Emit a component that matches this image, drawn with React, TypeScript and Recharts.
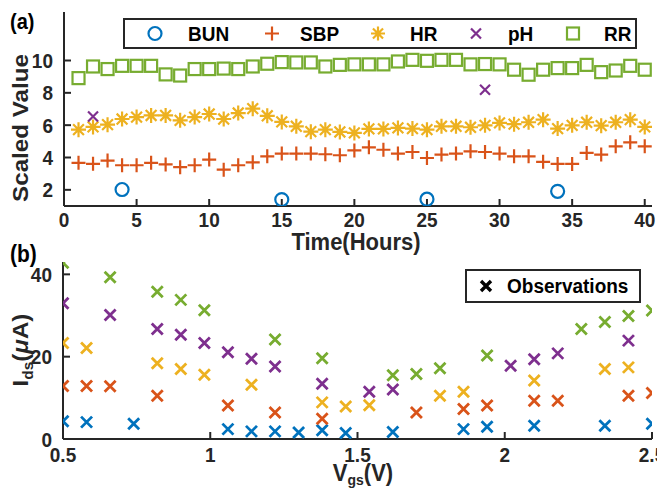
import React from "react";
import { ScatterChart, Scatter, XAxis, YAxis, Legend } from "recharts";

// (a) scaled vital signs vs. time
const hours = [1, 2, 3, 4, 5, 6, 7, 8, 9, 10, 11, 12, 13, 14, 15, 16, 17, 18, 19, 20,
  21, 22, 23, 24, 25, 26, 27, 28, 29, 30, 31, 32, 33, 34, 35, 36, 37, 38, 39, 40];
const rr = [8.91, 9.63, 9.47, 9.67, 9.67, 9.67, 9.14, 9.07, 9.47, 9.47, 9.5, 9.47, 9.63, 9.8, 9.9, 9.88, 9.88, 9.63, 9.73, 9.76,
  9.76, 9.76, 9.94, 10.04, 9.98, 10.04, 10.04, 9.76, 9.78, 9.76, 9.43, 9.12, 9.43, 9.53, 9.53, 9.73, 9.28, 9.38, 9.67, 9.43];
const hr = [5.72, 5.89, 6.03, 6.38, 6.5, 6.6, 6.6, 6.3, 6.5, 6.69, 6.38, 6.75, 7.02, 6.58, 6.2, 5.93, 5.6, 5.72, 5.58, 5.52,
  5.77, 5.77, 5.83, 5.79, 5.72, 5.93, 5.93, 5.87, 5.99, 6.14, 6.06, 6.18, 6.34, 5.79, 5.99, 6.18, 5.97, 6.18, 6.34, 5.89];
const sbp = [3.67, 3.61, 3.81, 3.52, 3.52, 3.67, 3.57, 3.4, 3.52, 3.87, 3.25, 3.52, 3.7, 4.07, 4.24, 4.24, 4.24, 4.2, 4.14, 4.44,
  4.63, 4.48, 4.24, 4.34, 3.97, 4.18, 4.24, 4.38, 4.34, 4.24, 4.07, 4.07, 3.73, 3.6, 3.6, 4.28, 4.18, 4.69, 4.94, 4.69];
const bunHours = [4, 15, 25, 34];
const bun = [2.02, 1.4, 1.42, 1.91];
const phHours = [2, 29];
const ph = [6.54, 8.19];
const timeTicks = [0, 5, 10, 15, 20, 25, 30, 35, 40];
const scaledTicks = [2, 4, 6, 8, 10];

// (b) Ids observations vs. Vgs, one list per colour
const vgs = [0.5, 0.58, 0.66, 0.74, 0.82, 0.9, 0.98, 1.06, 1.14, 1.22, 1.3, 1.38, 1.46,
  1.54, 1.62, 1.7, 1.78, 1.86, 1.94, 2.02, 2.1, 2.18, 2.26, 2.34, 2.42, 2.5];
const idsBlue = [4.3, 4.1, null, 3.7, null, null, null, 2.4, 1.85, 1.85, 1.6, 2.1, 1.45,
  null, 1.7, null, null, 2.4, 3.0, null, 3.2, null, null, 3.2, null, 3.7];
const idsOrange = [12.9, 12.9, 12.8, null, 10.5, null, null, 8.15, null, 6.45, null, 4.9, null,
  null, null, 6.45, null, 7.3, 8.15, null, 9.3, 9.3, null, null, 10.5, 11.2];
const idsYellow = [23.3, 22.1, null, null, 18.4, 17.0, 15.6, null, 13.2, null, null, 8.9, 7.9,
  8.2, null, null, 10.5, 11.5, null, null, 14.2, null, null, 17.0, 17.4, null];
const idsPurple = [33.0, null, 30.1, null, 26.7, 25.3, 23.3, 21.1, 19.5, 17.6, null, 13.4, null,
  11.5, 12.0, null, null, null, null, 17.8, 19.4, 20.8, null, null, 23.9, null];
const idsGreen = [42.8, null, 39.3, null, 35.8, 33.8, 31.3, null, null, 24.2, null, 19.6, null,
  null, 15.5, 15.8, 17.2, null, 20.3, null, null, null, 26.7, 28.4, 29.9, 31.2];
const vgsTicks = [0.5, 1, 1.5, 2, 2.5];
const idsTicks = [0, 20, 40];

const BLUE = "#0072BD";
const ORANGE = "#D95319";
const YELLOW = "#EDB120";
const PURPLE = "#7E2F8E";
const GREEN = "#77AC30";
const INK = "#262626";
const FONT = '"Liberation Sans", Arial, Helvetica, sans-serif';
const STRETCH = 1.1; // text in the figure is a bit taller than wide

type Pt = { x: number; y: number };
const toPoints = (xs: number[], ys: (number | null)[]): Pt[] =>
  xs.flatMap((x, i) => (ys[i] == null ? [] : [{ x, y: ys[i] as number }]));

function glyphPath(kind: string, cx: number, cy: number, r: number) {
  const d = r * 0.72;
  switch (kind) {
    case "plus":
      return `M${cx - r} ${cy}H${cx + r}M${cx} ${cy - r}V${cy + r}`;
    case "star":
      return `M${cx - r} ${cy}H${cx + r}M${cx} ${cy - r}V${cy + r}` +
        `M${cx - d} ${cy - d}L${cx + d} ${cy + d}M${cx - d} ${cy + d}L${cx + d} ${cy - d}`;
    default: // x
      return `M${cx - r} ${cy - r}L${cx + r} ${cy + r}M${cx - r} ${cy + r}L${cx + r} ${cy - r}`;
  }
}

function Glyph({ kind, cx, cy, color, w = 2, r = 7 }: { kind: string; cx: number; cy: number; color: string; w?: number; r?: number }) {
  if (kind === "circle") return <circle cx={cx} cy={cy} r={6.5} fill="none" stroke={color} strokeWidth={2.2} />;
  if (kind === "square")
    return <rect x={cx - 6} y={cy - 6} width={12} height={12} fill="none" stroke={color} strokeWidth={2.2} />;
  return <path d={glyphPath(kind, cx, cy, r)} fill="none" stroke={color} strokeWidth={w} />;
}

const shape = (kind: string, color: string, w = 2, r = 7) => (p: any) =>
  <Glyph kind={kind} cx={p.cx} cy={p.cy} color={color} w={w} r={r} />;

const tickStyle = { fontFamily: FONT, fontSize: 19, fontWeight: 700, fill: INK };

const BottomTick = (p: any) => (
  <text transform={`translate(${p.x},${p.y}) scale(1,${STRETCH})`} textAnchor="middle" dy="0.72em" style={tickStyle}>
    {p.payload.value}
  </text>
);
const LeftTick = (p: any) => (
  <text transform={`translate(${p.x},${p.y}) scale(1,${STRETCH})`} textAnchor="end" dy="0.36em" style={tickStyle}>
    {p.payload.value}
  </text>
);

const axisLine = { stroke: INK, strokeWidth: 2 };
const tickLine = { stroke: INK, strokeWidth: 2 };

const topSeries = [
  { name: "BUN", kind: "circle", color: BLUE, mx: 32, tx: 65 },
  { name: "SBP", kind: "plus", color: ORANGE, mx: 149, tx: 177 },
  { name: "HR", kind: "star", color: YELLOW, mx: 255, tx: 287 },
  { name: "pH", kind: "x", color: PURPLE, mx: 353, tx: 385 },
  { name: "RR", kind: "square", color: GREEN, mx: 450, tx: 481 },
];

const legendText = { fontFamily: FONT, fontSize: 19, fontWeight: 700, fill: "#000" };

const TopLegend = () => (
  <svg width={514} height={31} style={{ display: "block" }}>
    <rect x={1} y={1} width={512} height={29} fill="#fff" stroke={INK} strokeWidth={2} />
    {topSeries.map((s) => (
      <g key={s.name}>
        <Glyph kind={s.kind} cx={s.mx} cy={15.5} color={s.color} w={2.2} r={s.kind === "x" ? 5 : 7} />
        <text transform={`translate(${s.tx},22.5) scale(1,${STRETCH})`} style={legendText}>{s.name}</text>
      </g>
    ))}
  </svg>
);

const BottomLegend = () => (
  <svg width={176} height={34} style={{ display: "block" }}>
    <rect x={1} y={1} width={174} height={32} fill="#fff" stroke={INK} strokeWidth={2} />
    <Glyph kind="x" cx={21} cy={17} color="#000" w={3.4} r={5} />
    <text transform={`translate(42,24) scale(1,${STRETCH})`} style={legendText}>Observations</text>
  </svg>
);

const labelStyle = { fontFamily: FONT, fontSize: 22, fontWeight: 700, fill: INK };

export default function App() {
  return (
    <div style={{ position: "absolute", left: 0, top: 0, width: 657, height: 489, background: "#fff" }}>
      <div style={{ position: "absolute", left: 0, top: 0 }}>
        <ScatterChart width={657} height={240} margin={{ top: 12, right: 5, bottom: 0, left: 0 }}>
          <XAxis type="number" dataKey="x" domain={[0, 40.5]} ticks={timeTicks} interval={0} allowDataOverflow
            height={34} axisLine={axisLine} tickLine={tickLine} tickSize={-7} tickMargin={13} tick={BottomTick} />
          <XAxis xAxisId="top" orientation="top" type="number" domain={[0, 40.5]} ticks={timeTicks} interval={0}
            allowDataOverflow height={0} axisLine={axisLine} tickLine={tickLine} tickSize={-7} tick={false} />
          <YAxis type="number" dataKey="y" domain={[1, 13]} ticks={scaledTicks} interval={0} allowDataOverflow
            width={64} axisLine={axisLine} tickLine={tickLine} tickSize={-7} tickMargin={18} tick={LeftTick} />
          <YAxis yAxisId="right" orientation="right" type="number" domain={[1, 13]} ticks={scaledTicks} interval={0}
            allowDataOverflow width={0} axisLine={axisLine} tickLine={tickLine} tickSize={-7} tick={false} />
          <Legend layout="horizontal" verticalAlign="middle" align="center" content={() => <TopLegend />}
            wrapperStyle={{ left: 123, top: 18, width: 514, height: 31 }} />
          <Scatter data={toPoints(bunHours, bun)} shape={shape("circle", BLUE)} isAnimationActive={false} />
          <Scatter data={toPoints(hours, sbp)} shape={shape("plus", ORANGE, 2.2, 7)} isAnimationActive={false} />
          <Scatter data={toPoints(hours, hr)} shape={shape("star", YELLOW, 2.2, 7.5)} isAnimationActive={false} />
          <Scatter data={toPoints(phHours, ph)} shape={shape("x", PURPLE, 2.2, 5)} isAnimationActive={false} />
          <Scatter data={toPoints(hours, rr)} shape={shape("square", GREEN)} isAnimationActive={false} />
        </ScatterChart>
      </div>

      <div style={{ position: "absolute", left: 0, top: 240 }}>
        <ScatterChart width={657} height={249} margin={{ top: 22, right: 5, bottom: 0, left: 0 }}>
          <XAxis type="number" dataKey="x" domain={[0.5, 2.5]} ticks={vgsTicks} interval={0} allowDataOverflow
            height={50} axisLine={axisLine} tickLine={tickLine} tickSize={-7} tickMargin={15} tick={BottomTick} />
          <XAxis xAxisId="top" orientation="top" type="number" domain={[0.5, 2.5]} ticks={vgsTicks} interval={0}
            allowDataOverflow height={0} axisLine={axisLine} tickLine={tickLine} tickSize={-7} tick={false} />
          <YAxis type="number" dataKey="y" domain={[0, 43]} ticks={idsTicks} interval={0} allowDataOverflow
            width={63} axisLine={axisLine} tickLine={tickLine} tickSize={-7} tickMargin={18} tick={LeftTick} />
          <YAxis yAxisId="right" orientation="right" type="number" domain={[0, 43]} ticks={idsTicks} interval={0}
            allowDataOverflow width={0} axisLine={axisLine} tickLine={tickLine} tickSize={-7} tick={false} />
          <Legend layout="horizontal" verticalAlign="middle" align="center" content={() => <BottomLegend />}
            wrapperStyle={{ left: 465, top: 29, width: 176, height: 34 }} />
          <Scatter data={toPoints(vgs, idsBlue)} shape={shape("x", BLUE, 2.8, 5.5)} isAnimationActive={false} />
          <Scatter data={toPoints(vgs, idsOrange)} shape={shape("x", ORANGE, 2.8, 5.5)} isAnimationActive={false} />
          <Scatter data={toPoints(vgs, idsYellow)} shape={shape("x", YELLOW, 2.8, 5.5)} isAnimationActive={false} />
          <Scatter data={toPoints(vgs, idsPurple)} shape={shape("x", PURPLE, 2.8, 5.5)} isAnimationActive={false} />
          <Scatter data={toPoints(vgs, idsGreen)} shape={shape("x", GREEN, 2.8, 5.5)} isAnimationActive={false} />
        </ScatterChart>
      </div>

      {/* panel tags and axis titles */}
      <svg width={657} height={489} style={{ position: "absolute", left: 0, top: 0, pointerEvents: "none" }}>
        <text transform={`translate(10,29) scale(1,${STRETCH})`} style={{ ...labelStyle, fontSize: 20, fill: "#000" }}>(a)</text>
        <text transform={`translate(10,262) scale(1,${STRETCH})`} style={{ ...labelStyle, fontSize: 21, fill: "#000" }}>(b)</text>
        <text transform={`translate(28,128) rotate(-90) scale(${STRETCH},1)`} textAnchor="middle" style={labelStyle}>
          Scaled Value
        </text>
        <text transform={`translate(356,250) scale(1,${STRETCH})`} textAnchor="middle" style={labelStyle}>
          Time(Hours)
        </text>
        <text transform={`translate(28,350) rotate(-90) scale(${STRETCH},1)`} textAnchor="middle" style={labelStyle}>
          I<tspan fontSize={14} dy={5}>ds</tspan>
          <tspan dy={-5}>(</tspan>
          <tspan fontStyle="italic">μ</tspan>A)
        </text>
        <text transform={`translate(363,481) scale(1,${STRETCH})`} textAnchor="middle" style={labelStyle}>
          V<tspan fontSize={14} dy={4}>gs</tspan>
          <tspan dy={-4}>(V)</tspan>
        </text>
      </svg>
    </div>
  );
}
